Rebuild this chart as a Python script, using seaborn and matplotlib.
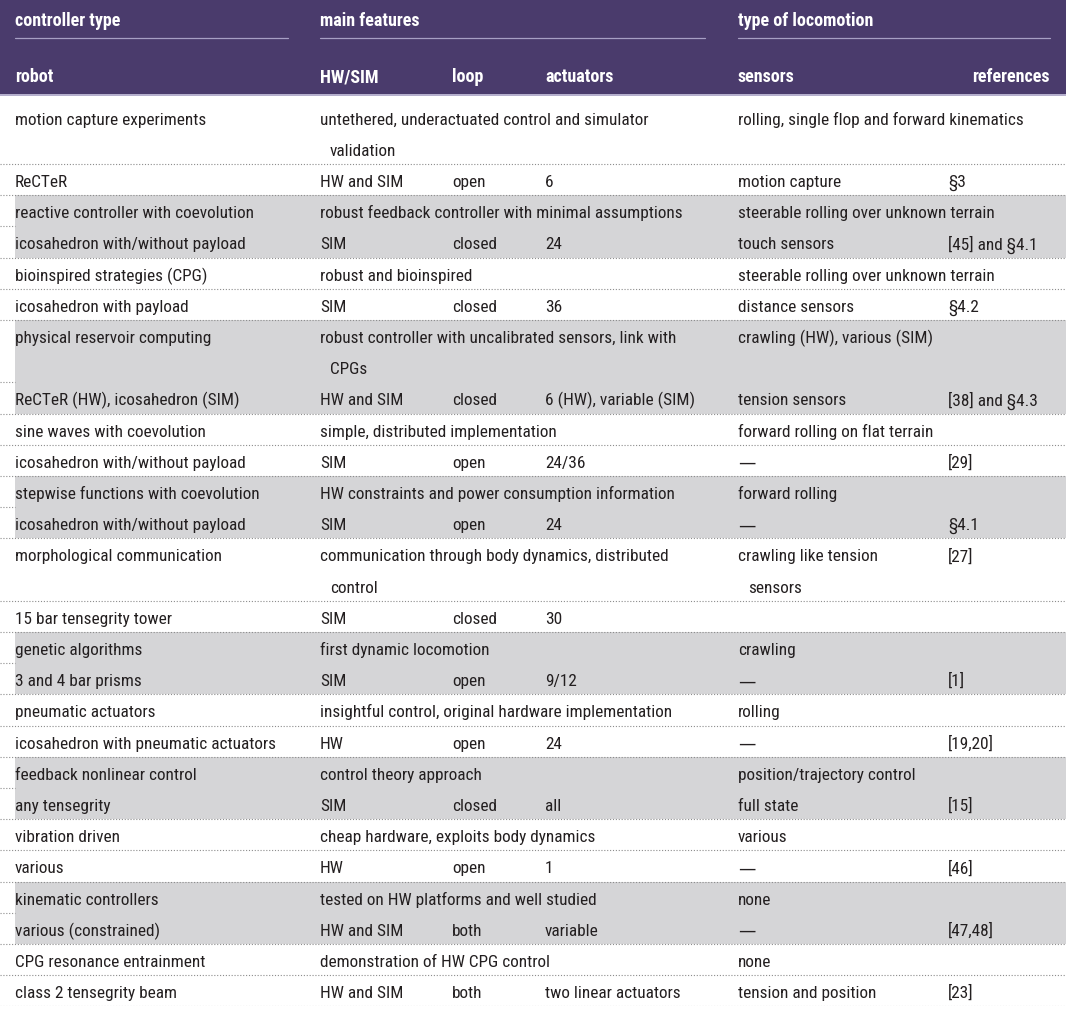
import numpy as np
import matplotlib.pyplot as plt
import seaborn as sns
from matplotlib import font_manager
from matplotlib.colors import ListedColormap

# table content, one entry per controller (two table rows each)
controllers = ["motion capture experiments", "reactive controller with coevolution",
               "bioinspired strategies (CPG)", "physical reservoir computing",
               "sine waves with coevolution", "stepwise functions with coevolution",
               "morphological communication", "genetic algorithms", "pneumatic actuators",
               "feedback nonlinear control", "vibration driven", "kinematic controllers",
               "CPG resonance entrainment"]
features = ["untethered, underactuated control and simulator\nvalidation",
            "robust feedback controller with minimal assumptions",
            "robust and bioinspired",
            "robust controller with uncalibrated sensors, link with\nCPGs",
            "simple, distributed implementation",
            "HW constraints and power consumption information",
            "communication through body dynamics, distributed\ncontrol",
            "first dynamic locomotion",
            "insightful control, original hardware implementation",
            "control theory approach",
            "cheap hardware, exploits body dynamics",
            "tested on HW platforms and well studied",
            "demonstration of HW CPG control"]
locomotion = ["rolling, single flop and forward kinematics",
              "steerable rolling over unknown terrain",
              "steerable rolling over unknown terrain",
              "crawling (HW), various (SIM)",
              "forward rolling on flat terrain",
              "forward rolling",
              "crawling like tension\nsensors",
              "crawling", "rolling", "position/trajectory control", "various",
              "none", "none"]
locomotion_refs = ["", "", "", "", "", "", "[27]", "", "", "", "", "", ""]

robots = ["ReCTeR", "icosahedron with/without payload", "icosahedron with payload",
          "ReCTeR (HW), icosahedron (SIM)", "icosahedron with/without payload",
          "icosahedron with/without payload", "15 bar tensegrity tower",
          "3 and 4 bar prisms", "icosahedron with pneumatic actuators",
          "any tensegrity", "various", "various (constrained)",
          "class 2 tensegrity beam"]
hw_sim = ["HW and SIM", "SIM", "SIM", "HW and SIM", "SIM", "SIM", "SIM", "SIM",
          "HW", "SIM", "HW", "HW and SIM", "HW and SIM"]
loop = ["open", "closed", "closed", "closed", "open", "open", "closed", "open",
        "open", "closed", "open", "both", "both"]
actuators = ["6", "24", "36", "6 (HW), variable (SIM)", "24/36", "24", "30", "9/12",
             "24", "all", "1", "variable", "two linear actuators"]
sensors = ["motion capture", "touch sensors", "distance sensors", "tension sensors",
           "\u2014", "\u2014", "", "\u2014", "\u2014", "full state", "\u2014", "\u2014",
           "tension and position"]
references = ["\u00a73", "[45] and \u00a74.1", "\u00a74.2", "[38] and \u00a74.3", "[29]",
              "\u00a74.1", "", "[1]", "[19,20]", "[15]", "[46]", "[47,48]", "[23]"]

header_top = ["controller type", "main features", "type of locomotion"]
header_sub = ["robot", "HW/SIM", "loop", "actuators", "sensors", "references"]

purple = "#4a3b6c"
lavender = "#a79fc4"
grey = "#d5d5d7"
dots = "#8c8c8c"

sns.set_theme(style="white")
names = {f.name for f in font_manager.fontManager.ttflist}
face = next((n for n in ["Liberation Sans Narrow", "Roboto Condensed", "Open Sans Condensed",
                         "Liberation Sans"] if n in names), "DejaVu Sans")
plt.rcParams["font.family"] = [face, "DejaVu Sans"]
fs = 12.4 if ("Narrow" in face or "Condensed" in face) else 10.3

W, H = 1066, 1009
cols = [15, 320, 452, 545, 738, 948]
body_top, body_bot = 101.6, 1006.4

# how many text lines each controller row takes
n_ctrl = [max(len(s.split("\n")) for s in trio)
          for trio in zip(controllers, features, locomotion)]
n_lines = sum(n + 1 for n in n_ctrl)

shade = np.zeros(n_lines)
i = 0
for r, n in enumerate(n_ctrl):
    shade[i:i + n + 1] = r % 2
    i += n + 1

fig = plt.figure(figsize=(W / 100, H / 100), dpi=100)

# grey banding through a one-column heatmap
band = fig.add_axes([15 / W, 1 - body_bot / H, 1 - 15 / W, (body_bot - body_top) / H])
sns.heatmap(shade.reshape(-1, 1), ax=band, cmap=ListedColormap(["white", grey]),
            vmin=0, vmax=1, cbar=False, xticklabels=False, yticklabels=False)

body = fig.add_axes([0, 1 - body_bot / H, 1, (body_bot - body_top) / H])
body.set_xlim(0, W)
body.set_ylim(n_lines, 0)
body.patch.set_alpha(0)
body.axis("off")

def cell(x, y, s):
    for j, part in enumerate(s.split("\n")):
        extra = {"family": "DejaVu Sans"} if part == "\u2014" else {}
        body.text(x + (10 if j else 0), y + j + 0.74, part, fontsize=fs,
                  color="#231f20", va="baseline", ha="left", **extra)

def rule(y, x1=W):
    body.axhline(y, xmin=0, xmax=x1 / W, color=dots, lw=0.8, ls=(0, (1, 1.6)))

i = 0
for r, n in enumerate(n_ctrl):
    cell(cols[0], i, controllers[r])
    cell(cols[1], i, features[r])
    cell(cols[4], i, locomotion[r])
    cell(cols[5], i, locomotion_refs[r])
    k = i + n
    for x, s in zip(cols, [robots[r], hw_sim[r], loop[r], actuators[r],
                           sensors[r], references[r]]):
        cell(x, k, s)
    if r > 0:
        rule(i)
    rule(k, W if r % 2 == 0 else 15)
    i = k + 1
rule(n_lines)

# header
hfs = fs + 0.6
head = fig.add_axes([0, 1 - 96 / H, 1, 96 / H])
head.set_xlim(0, W)
head.set_ylim(96, 0)
head.axis("off")
head.axhspan(0, 93.5, color=purple, lw=0)
head.axhline(94.5, color=lavender, lw=1.2)
for x, s in zip([cols[0], cols[1], cols[4]], header_top):
    head.text(x, 26, s, color="white", fontsize=hfs, fontweight="bold", va="baseline")
for x0, x1 in [(15, 288), (320, 705), (738, 1050)]:
    head.plot([x0, x1], [38, 38], color=lavender, lw=0.9)
for x, s in zip(cols[:5], header_sub[:5]):
    head.text(x, 82, s, color="white", fontsize=hfs, fontweight="bold", va="baseline")
head.text(1050, 82, header_sub[5], color="white", fontsize=hfs, fontweight="bold",
          va="baseline", ha="right")

plt.savefig("out.png", dpi=100)
